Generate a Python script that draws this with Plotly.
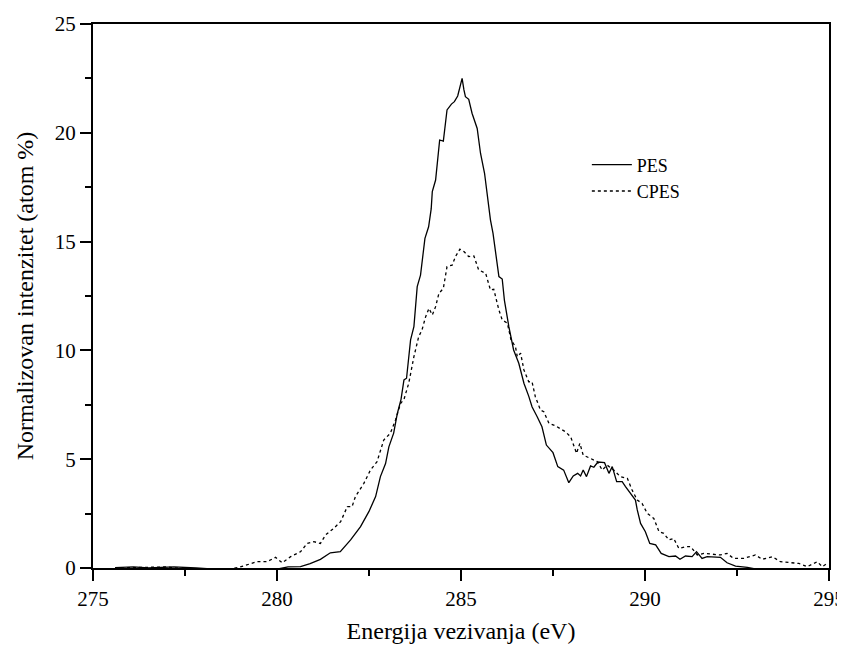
import plotly.graph_objects as go

# PES (solid)
pes_x = [275.6, 276.1, 276.5, 277.2, 277.8, 278.5, 279.0, 279.5, 280.0, 280.3, 280.64, 280.9, 281.18, 281.45,
         281.72, 282.0, 282.27, 282.5, 282.68, 282.81, 282.95, 283.04, 283.17, 283.27, 283.37, 283.45,
         283.52, 283.63, 283.72, 283.81, 283.9, 284.02, 284.12, 284.19, 284.22, 284.31, 284.42, 284.52,
         284.62, 284.74, 284.82, 284.91, 284.97, 285.03, 285.08, 285.12, 285.21, 285.3, 285.44, 285.53,
         285.64, 285.73, 285.8, 285.87, 285.94, 286.03, 286.12, 286.18, 286.3, 286.43, 286.57, 286.71,
         286.84, 286.93, 287.07, 287.2, 287.32, 287.5, 287.63, 287.79, 287.93, 288.05, 288.17, 288.25,
         288.32, 288.41, 288.52, 288.61, 288.72, 288.9, 289.02, 289.11, 289.23, 289.38, 289.47, 289.61,
         289.74, 289.79, 289.88, 290.01, 290.13, 290.29, 290.44, 290.65, 290.83, 290.95, 291.1, 291.28,
         291.4, 291.55, 291.69, 292.05, 292.23, 292.46, 292.6, 292.78, 293.14, 293.5, 293.86, 294.23,
         294.45, 294.59, 294.77, 294.9, 295.0]
pes_y = [0.02, 0.05, 0.0, 0.05, 0.0, -0.05, -0.12, -0.1, -0.05, 0.05, 0.06, 0.2, 0.4, 0.7,
         0.75, 1.29, 1.9, 2.6, 3.28, 4.2, 4.8, 5.57, 6.2, 7.1, 7.75, 8.64,
         8.72, 10.48, 11.09, 12.93, 13.46, 15.15, 15.68, 16.5, 17.3, 17.83, 19.67, 19.62,
         21.05, 21.32, 21.43, 21.69, 22.05, 22.5, 21.97, 21.66, 21.54, 20.9, 20.2, 19.06,
         18.14, 17.0, 16.0, 15.38, 14.46, 13.39, 13.28, 12.3, 11.09, 10.02, 9.41, 8.49,
         7.9, 7.41, 6.95, 6.49, 5.65, 5.3, 4.66, 4.5, 3.92, 4.23, 4.35, 4.23,
         4.5, 4.2, 4.69, 4.63, 4.87, 4.84, 4.35, 4.66, 3.97, 3.97, 3.74, 3.43,
         3.12, 2.67, 2.05, 1.67, 1.13, 1.06, 0.67, 0.52, 0.55, 0.4, 0.55, 0.52,
         0.75, 0.44, 0.52, 0.49, 0.24, 0.09, 0.06, 0.03, -0.09, -0.06, -0.17, -0.14,
         -0.06, -0.24, -0.09, -0.32, -0.17]

# CPES (dashed)
cpes_x = [275.6, 276.5, 277.0, 277.5, 277.8, 278.2, 278.6, 279.0, 279.28, 279.46, 279.73, 279.96, 280.14,
          280.37, 280.64, 280.82, 281.0, 281.18, 281.32, 281.54, 281.73, 281.91, 282.04, 282.13, 282.36,
          282.54, 282.72, 282.9, 283.08, 283.22, 283.36, 283.45, 283.58, 283.72, 283.85, 283.94, 284.04,
          284.13, 284.22, 284.31, 284.4, 284.52, 284.62, 284.76, 284.85, 284.97, 285.08, 285.21, 285.35,
          285.48, 285.67, 285.8, 285.89, 286.03, 286.12, 286.26, 286.36, 286.48, 286.53, 286.62, 286.71,
          286.84, 286.93, 287.02, 287.16, 287.25, 287.39, 287.57, 287.84, 287.98, 288.14, 288.23, 288.32,
          288.52, 288.7, 288.84, 288.97, 289.15, 289.33, 289.52, 289.65, 289.79, 289.92, 290.06, 290.24,
          290.38, 290.51, 290.65, 290.78, 290.92, 291.1, 291.24, 291.42, 291.6, 291.83, 292.05, 292.23,
          292.41, 292.68, 293.0, 293.18, 293.46, 293.68, 293.95, 294.18, 294.41, 294.68, 294.82, 294.95]
cpes_y = [0.0, 0.02, 0.05, -0.05, -0.17, -0.15, -0.1, 0.05, 0.2, 0.29, 0.29, 0.49, 0.24,
          0.52, 0.75, 1.13, 1.21, 1.13, 1.52, 1.82, 2.13, 2.82, 2.82, 3.28, 3.89,
          4.5, 4.89, 5.88, 6.19, 6.8, 7.57, 7.75, 8.49, 9.71, 10.63, 10.94, 11.55,
          11.93, 11.63, 12.01, 12.62, 12.85, 13.85, 13.92, 14.31, 14.65, 14.54, 14.31, 14.34,
          13.7, 13.54, 12.78, 12.81, 11.86, 11.4, 11.25, 10.48, 10.17, 9.71, 9.87, 9.1,
          8.56, 8.56, 7.87, 7.26, 7.18, 6.65, 6.53, 6.26, 6.03, 5.27, 5.73, 5.19,
          5.04, 4.89, 4.5, 4.73, 4.5, 4.2, 4.12, 3.58, 3.12, 2.97, 2.51, 2.28,
          1.67, 1.59, 1.29, 1.36, 0.9, 0.98, 0.98, 0.6, 0.67, 0.64, 0.6, 0.67,
          0.44, 0.44, 0.6, 0.4, 0.52, 0.29, 0.24, 0.21, 0.06, 0.29, 0.06, 0.21]

x_ticks = [275, 280, 285, 290, 295]
y_ticks = [0, 5, 10, 15, 20, 25]

FONT = "Times New Roman, Liberation Serif, serif"

fig = go.Figure()
fig.add_trace(go.Scatter(x=pes_x, y=pes_y, mode="lines", name="PES",
                         line=dict(color="black", width=1.3)))
fig.add_trace(go.Scatter(x=cpes_x, y=cpes_y, mode="lines", name="CPES",
                         line=dict(color="black", width=1.3, dash="3px,3px")))

axis_common = dict(showgrid=False, zeroline=False, showline=True, linecolor="black", linewidth=2,
                   mirror=True, ticks="outside", ticklen=11, tickwidth=2, tickcolor="black",
                   automargin=False, ticklabeloverflow="allow",
                   tickfont=dict(family=FONT, size=21, color="black"))

fig.update_xaxes(range=[275, 295], tickvals=x_ticks, **axis_common,
                 minor=dict(ticks="outside", dtick=2.5, tick0=275, ticklen=6, tickwidth=1.5, tickcolor="black"),
                 title=dict(text="Energija vezivanja (eV)", font=dict(family=FONT, size=24, color="black"),
                            standoff=18))
fig.update_yaxes(range=[0, 25], tickvals=y_ticks, **axis_common,
                 minor=dict(ticks="outside", dtick=2.5, tick0=0, ticklen=6, tickwidth=1.5, tickcolor="black"),
                 title=dict(text="Normalizovan intenzitet (atom %)", font=dict(family=FONT, size=24, color="black"),
                            standoff=14))

# page has an 8px body margin, so the figure is offset by 8px
fig.update_layout(
    width=845, height=636,
    margin=dict(l=85, r=24, t=16, b=76),
    plot_bgcolor="white", paper_bgcolor="white",
    font=dict(family=FONT, color="black"),
    legend=dict(x=0.671, y=0.775, xanchor="left", yanchor="top",
                bgcolor="rgba(0,0,0,0)", font=dict(family=FONT, size=18, color="black"),
                tracegroupgap=0, itemwidth=40),
    showlegend=True,
)

fig.write_html("out.html")
